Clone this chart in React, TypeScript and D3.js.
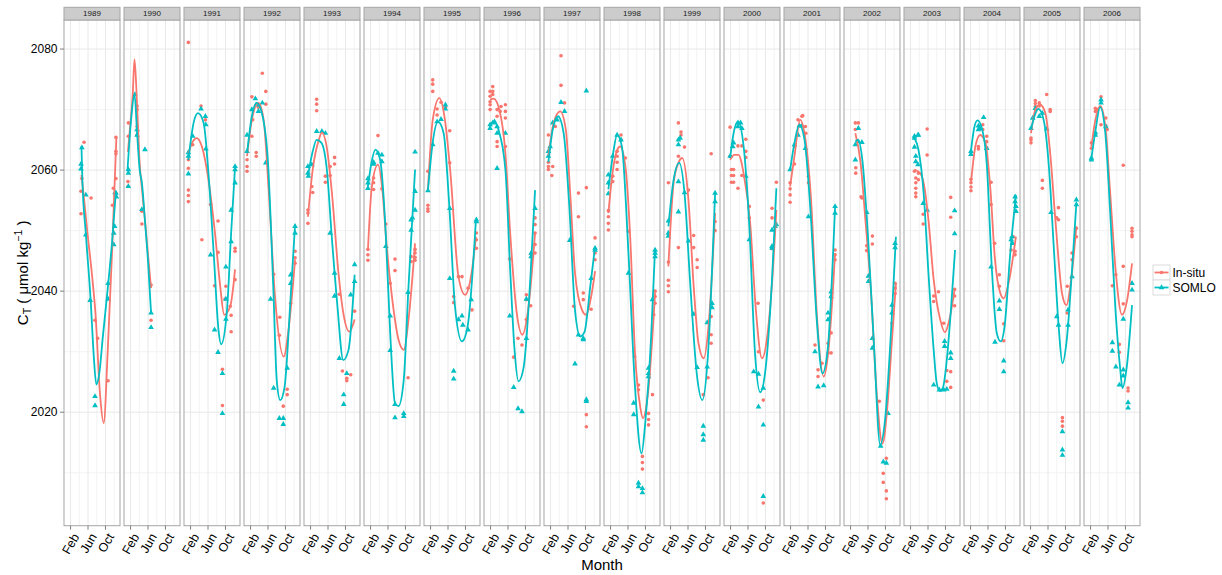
import React from "react";
import * as d3 from "d3";

type Pt = [number, number];

// Facet years and axis breaks
const years = [1989, 1990, 1991, 1992, 1993, 1994, 1995, 1996, 1997, 1998, 1999, 2000, 2001, 2002, 2003, 2004, 2005, 2006];
const monthBreaks = [2, 6, 10];
const monthLabels = ["Feb", "Jun", "Oct"];
const monthMinor = [4, 8, 12];
const ctBreaks = [2020, 2040, 2060, 2080];
const ctMinor = [2010, 2030, 2050, 2070];
const seriesNames = ["In-situ", "SOMLO"];
const seriesColors = ["#F8766D", "#00BFC4"];

// In-situ observations per year: [month, CT]
const insituPoints: Pt[][] = [
  [[5.1,2064.6],[4.6,2058.6],[4.4,2056.5],[4.4,2052.8],[6.7,2055.4],[7.6,2035.2],[8.2,2032.2],[10.6,2025.2],[12.4,2065.4],[12.4,2063.1],[12.4,2062.7],[12.4,2058.6],[11.8,2057.0],[11.6,2054.2],[12.4,2056.2]],
  [[1.5,2067.8],[1.5,2065.6],[1.4,2058.1],[1.4,2057.3],[3.5,2070.6],[3.5,2070.0],[3.5,2067.2],[3.5,2065.8],[4.6,2053.2],[4.6,2051.1],[6.7,2041.0],[6.7,2035.2]],
  [[1.5,2081.1],[1.5,2061.7],[1.5,2060.3],[1.5,2056.7],[1.5,2055.8],[1.5,2054.8],[2.5,2064.2],[4.4,2070.6],[4.6,2048.5],[5.4,2068.3],[6.6,2054.3],[8.3,2051.6],[8.3,2046.4],[7.5,2040.9],[10.1,2040.8],[9.9,2038.7],[9.3,2027.1],[9.3,2021.1],[12.2,2047.1],[12.2,2046.6],[12.2,2041.9],[11.3,2036.0],[11.3,2033.3],[11.1,2037.5]],
  [[1.2,2060.6],[1.2,2059.8],[1.2,2061.7],[2.3,2065.6],[2.5,2068.3],[2.3,2072.1],[3.3,2062.9],[3.3,2062.3],[3.8,2070.4],[4.7,2076.0],[5.5,2073.0],[5.5,2070.9],[8.7,2035.7],[8.6,2032.7],[9.5,2021.0],[10.4,2023.8],[10.4,2022.9],[12.2,2046.6],[12.2,2045.5],[12.2,2044.6],[11.2,2038.0],[7.3,2042.8]],
  [[1.4,2053.4],[1.4,2052.9],[1.4,2051.2],[2.3,2057.3],[2.5,2056.3],[3.4,2071.7],[3.4,2070.9],[3.4,2069.8],[5.4,2059.0],[5.4,2058.0],[6.5,2060.6],[6.5,2059.1],[7.5,2062.1],[7.5,2061.0],[8.6,2039.5],[9.3,2026.8],[10.3,2025.2],[10.3,2025.6],[11.2,2026.2],[12.1,2036.7]],
  [[1.4,2046.9],[1.4,2046.0],[1.4,2045.1],[2.7,2058.7],[2.7,2057.9],[2.7,2056.8],[3.7,2065.7],[4.6,2056.9],[5.5,2051.1],[6.5,2041.3],[7.6,2045.3],[7.6,2043.4],[10.6,2025.7],[11.3,2045.7],[11.3,2044.9],[12.2,2046.9],[12.2,2046.3],[12.2,2045.6],[12.2,2045.1]],
  [[1.4,2059.8],[1.4,2054.2],[1.4,2053.6],[1.4,2053.2],[2.5,2074.9],[2.5,2074.2],[2.5,2073.0],[3.5,2070.1],[3.5,2069.1],[4.4,2071.2],[5.4,2070.4],[6.4,2066.5],[6.4,2061.2],[7.3,2039.1],[7.3,2038.1],[8.4,2042.4],[9.2,2042.4],[10.6,2040.5],[11.5,2036.9],[12.5,2049.6],[12.5,2048.5],[12.5,2047.1]],
  [[1.9,2073.0],[1.9,2072.2],[1.9,2071.3],[1.9,2070.8],[1.9,2070.0],[2.5,2073.8],[2.5,2073.0],[2.5,2072.5],[3.5,2070.0],[3.5,2068.9],[4.2,2069.7],[4.4,2070.5],[5.4,2070.8],[5.4,2069.7],[5.4,2068.6],[3.5,2064.7],[3.5,2063.9],[5.4,2063.9],[6.4,2045.3],[7.3,2029.1],[8.3,2032.2],[9.2,2031.1],[10.2,2039.4],[10.2,2038.6],[10.2,2035.3],[11.2,2037.6],[12.2,2052.1],[12.2,2051.0],[12.2,2049.6],[12.2,2047.7],[12.2,2046.3],[11.3,2046.1]],
  [[1.5,2065.8],[1.5,2061.3],[1.5,2060.6],[1.5,2060.1],[2.3,2059.1],[2.5,2060.6],[3.1,2067.2],[4.4,2078.9],[4.4,2074.0],[5.2,2071.1],[8.4,2056.2],[8.4,2052.3],[7.3,2037.5],[9.5,2039.7],[9.5,2038.6],[10.2,2057.1],[10.2,2019.6],[10.2,2017.6],[11.3,2037.0],[12.2,2048.8],[12.2,2046.3],[12.2,2045.2]],
  [[1.5,2053.3],[1.5,2052.3],[1.5,2051.2],[1.5,2050.1],[2.5,2058.1],[2.5,2059.0],[3.5,2063.1],[3.5,2062.3],[3.5,2061.3],[3.5,2060.1],[4.4,2065.8],[4.4,2065.0],[5.4,2062.0],[6.1,2049.9],[7.5,2029.2],[8.4,2024.5],[8.4,2023.7],[9.3,2012.7],[9.3,2011.7],[9.3,2010.6],[10.7,2019.8],[10.7,2018.8],[10.7,2017.9],[11.6,2022.9],[12.2,2040.0],[12.2,2039.1],[12.2,2038.0],[11.9,2036.1]],
  [[1.5,2057.9],[1.5,2044.8],[1.5,2041.8],[1.5,2040.9],[1.5,2039.9],[3.8,2067.8],[4.4,2066.3],[4.4,2065.8],[3.8,2062.3],[3.8,2047.2],[5.2,2063.8],[6.1,2056.7],[7.3,2049.2],[7.3,2047.2],[8.1,2045.2],[8.1,2043.9],[9.5,2022.9],[10.6,2025.7],[11.3,2032.8],[11.3,2031.4],[11.3,2035.8],[11.3,2062.7],[12.2,2051.5],[12.2,2050.0]],
  [[1.9,2067.1],[1.9,2062.3],[2.2,2060.1],[2.2,2059.1],[2.2,2058.0],[2.7,2060.1],[2.7,2059.1],[2.7,2058.0],[3.7,2064.0],[3.7,2057.0],[4.6,2064.0],[4.6,2059.1],[5.5,2065.1],[5.5,2063.1],[5.5,2062.1],[6.3,2054.0],[6.3,2052.1],[8.3,2038.0],[8.4,2030.0],[9.5,2022.0],[9.5,2005.0],[11.5,2052.1],[11.5,2047.0],[11.5,2053.7],[12.5,2058.0]],
  [[1.9,2057.9],[1.9,2056.9],[1.9,2055.9],[1.9,2054.7],[2.9,2061.0],[2.9,2063.9],[3.7,2068.3],[4.6,2068.9],[4.8,2069.0],[5.4,2067.2],[5.5,2066.1],[6.1,2059.0],[6.1,2057.9],[7.6,2031.1],[8.3,2027.0],[8.3,2025.9],[9.2,2028.1],[10.6,2031.4],[10.6,2029.8],[11.3,2029.8],[11.3,2033.1],[11.3,2039.1],[12.2,2046.8],[12.2,2046.0],[12.2,2045.2]],
  [[3.1,2067.8],[3.8,2067.8],[3.1,2066.7],[3.2,2060.4],[3.2,2059.5],[4.4,2055.6],[4.6,2055.4],[5.7,2047.5],[5.7,2046.7],[7.0,2049.1],[7.0,2047.8],[8.6,2021.8],[9.5,2009.9],[9.5,2008.4],[10.2,2012.4],[10.2,2007.0],[10.2,2005.7],[11.5,2034.7],[12.2,2041.3],[12.2,2040.5],[12.2,2039.6]],
  [[2.9,2059.8],[3.2,2058.7],[3.2,2057.9],[3.2,2057.0],[3.2,2056.2],[3.2,2055.6],[3.8,2059.5],[3.8,2058.4],[4.9,2052.7],[4.9,2051.1],[5.8,2066.8],[5.8,2062.5],[7.3,2039.2],[7.3,2038.3],[8.4,2039.9],[9.6,2034.7],[10.3,2026.9],[10.3,2025.1],[11.2,2055.5],[11.2,2052.2],[11.2,2026.7],[11.2,2024.1],[12.1,2040.3],[12.1,2039.2],[12.1,2037.6]],
  [[2.1,2058.5],[2.1,2057.9],[2.1,2057.2],[2.1,2056.6],[3.8,2063.9],[3.8,2063.5],[4.1,2067.2],[4.8,2067.5],[4.8,2066.7],[5.7,2065.6],[5.7,2064.7],[5.7,2063.7],[6.7,2058.0],[6.7,2054.3],[7.5,2047.9],[8.6,2042.7],[8.6,2040.8],[9.6,2034.6],[9.6,2031.8],[11.3,2046.8],[11.8,2049.0],[12.2,2046.6],[12.2,2046.0]],
  [[2.1,2065.0],[2.1,2064.5],[2.1,2065.3],[3.1,2071.5],[3.1,2071.0],[3.1,2070.5],[3.2,2070.0],[4.0,2071.1],[4.0,2070.6],[5.7,2072.5],[6.5,2070.0],[6.5,2069.7],[4.7,2058.3],[4.7,2057.0],[8.4,2053.8],[8.0,2052.1],[8.4,2051.8],[10.4,2040.8],[10.4,2036.4],[9.3,2019.1],[9.3,2018.5],[9.3,2017.7],[11.5,2046.3],[11.5,2045.2],[12.5,2050.4],[12.5,2049.0]],
  [[2.2,2064.5],[2.2,2063.6],[3.1,2070.2],[3.1,2069.7],[3.5,2070.0],[4.4,2072.1],[4.4,2067.5],[5.5,2068.6],[5.5,2067.3],[5.8,2066.7],[7.8,2042.7],[7.0,2040.9],[8.6,2031.2],[8.6,2029.9],[9.5,2060.8],[9.5,2044.1],[9.5,2037.9],[10.6,2024.0],[10.6,2023.5],[11.5,2050.4],[11.5,2049.9],[11.5,2049.3],[11.5,2049.0]],
];

// SOMLO estimates per year: [month, CT]
const somloPoints: Pt[][] = [
  [[4.6,2063.7],[4.4,2061.0],[4.4,2060.2],[5.5,2055.9],[5.5,2049.3],[6.5,2038.5],[7.6,2022.6],[7.6,2021.1],[10.6,2041.3],[10.6,2038.7],[11.9,2047.7],[11.9,2049.6],[12.1,2050.7],[12.4,2056.2],[12.5,2055.6],[12.2,2056.3]],
  [[1.5,2060.1],[1.5,2059.5],[1.5,2057.3],[3.0,2072.5],[3.5,2066.7],[3.5,2065.8],[5.3,2063.4],[4.6,2053.5],[6.7,2036.4],[6.7,2034.0]],
  [[1.5,2062.9],[1.5,2062.3],[1.5,2059.4],[2.5,2065.6],[4.4,2070.1],[5.4,2068.9],[5.5,2067.5],[5.5,2063.5],[6.6,2046.0],[7.5,2033.6],[8.3,2029.9],[9.3,2026.4],[9.3,2019.8],[10.1,2044.0],[10.1,2038.7],[10.1,2035.4],[11.3,2048.2],[11.3,2053.4],[12.2,2060.1],[12.2,2057.9],[12.2,2060.6]],
  [[1.2,2065.8],[1.2,2063.1],[2.3,2070.0],[3.1,2071.8],[3.3,2070.8],[3.8,2069.7],[4.7,2071.1],[5.5,2061.2],[6.6,2038.7],[7.3,2024.0],[8.6,2019.0],[9.5,2019.0],[9.5,2018.0],[10.4,2027.3],[11.2,2041.3],[11.2,2042.7],[12.2,2050.7],[12.2,2049.6]],
  [[1.4,2060.6],[1.4,2059.5],[1.5,2059.0],[2.3,2060.9],[3.4,2066.4],[4.6,2066.4],[5.4,2066.1],[6.5,2049.6],[7.5,2043.0],[7.5,2039.2],[8.6,2028.9],[9.6,2022.9],[9.6,2021.3],[10.3,2026.4],[11.2,2039.4],[12.1,2044.4],[12.1,2041.6]],
  [[1.4,2058.6],[1.4,2057.9],[1.4,2057.0],[2.7,2061.0],[2.7,2061.3],[3.7,2062.8],[4.6,2062.5],[4.6,2061.4],[5.5,2047.4],[6.5,2035.9],[6.5,2030.2],[7.6,2021.3],[7.6,2019.1],[9.6,2019.8],[9.6,2019.3],[10.6,2039.8],[11.3,2050.1],[11.3,2051.8],[11.6,2052.1],[12.2,2053.4],[12.2,2056.5],[12.2,2063.0]],
  [[1.4,2056.6],[2.5,2064.2],[3.5,2068.0],[4.4,2068.4],[5.4,2070.8],[5.4,2070.1],[6.4,2053.7],[6.4,2042.1],[7.3,2026.8],[7.3,2025.5],[8.4,2035.3],[9.2,2035.9],[9.4,2034.4],[10.6,2033.6],[11.3,2038.6],[12.5,2051.8],[12.5,2051.5]],
  [[1.9,2067.5],[1.9,2066.9],[2.5,2067.8],[2.9,2068.0],[3.5,2067.2],[3.5,2066.1],[3.5,2060.3],[5.4,2066.1],[6.4,2035.9],[7.3,2024.1],[8.3,2020.6],[9.2,2020.1],[10.2,2032.2],[10.2,2038.7],[11.3,2046.3],[11.3,2045.7],[12.2,2053.7]],
  [[1.5,2063.1],[1.5,2062.3],[1.9,2063.9],[2.5,2067.8],[3.5,2068.3],[4.4,2071.2],[5.2,2069.7],[6.4,2048.4],[7.6,2028.0],[8.4,2032.8],[9.5,2032.2],[9.5,2032.0],[10.2,2073.1],[10.2,2022.1],[10.2,2021.8],[11.3,2042.1],[12.2,2047.1],[12.2,2046.8]],
  [[1.5,2059.2],[1.5,2057.9],[1.5,2056.1],[2.5,2062.3],[3.5,2065.8],[4.4,2065.0],[6.1,2043.0],[7.3,2021.5],[7.3,2019.6],[8.4,2008.3],[8.4,2007.7],[9.3,2007.4],[9.3,2006.7],[10.7,2027.3],[10.7,2025.9],[10.7,2026.4],[11.6,2038.6],[12.2,2046.3],[12.2,2045.7],[12.2,2046.8]],
  [[1.5,2051.6],[1.5,2049.6],[1.5,2049.1],[3.8,2065.0],[3.8,2064.2],[4.2,2065.3],[3.8,2058.1],[3.8,2053.1],[5.2,2056.3],[6.1,2048.3],[7.3,2036.2],[8.1,2027.4],[9.5,2017.7],[9.5,2016.3],[9.5,2015.4],[10.4,2034.8],[10.4,2027.5],[11.5,2038.0],[11.5,2037.3],[12.2,2056.2],[12.2,2054.8]],
  [[1.9,2062.3],[2.5,2063.9],[2.7,2064.5],[3.7,2067.8],[3.7,2067.2],[4.3,2067.8],[4.6,2066.9],[5.5,2059.0],[6.3,2048.5],[7.3,2026.7],[8.4,2026.3],[8.4,2020.9],[9.5,2024.0],[9.5,2017.9],[9.5,2006.1],[11.5,2050.1],[11.5,2047.4],[11.5,2047.1],[12.5,2051.0],[12.2,2050.7]],
  [[1.9,2060.1],[2.9,2064.2],[3.7,2065.8],[4.0,2067.3],[4.6,2067.3],[5.4,2063.6],[6.1,2052.3],[7.6,2030.0],[8.3,2024.2],[9.6,2024.4],[10.6,2036.4],[10.6,2035.3],[11.3,2039.9],[11.3,2039.1],[12.2,2054.0],[12.2,2052.9]],
  [[3.1,2061.7],[3.1,2064.2],[3.8,2066.9],[3.8,2064.7],[4.6,2064.6],[5.7,2053.0],[6.1,2042.5],[6.1,2041.6],[7.0,2032.2],[7.0,2030.6],[8.9,2014.4],[9.5,2011.8],[10.2,2011.6],[10.6,2019.8],[11.5,2036.4],[11.5,2037.7],[12.2,2047.9],[12.2,2047.2]],
  [[2.9,2065.6],[2.9,2065.3],[3.7,2065.8],[3.8,2065.8],[2.9,2063.8],[3.2,2062.3],[3.2,2061.4],[3.7,2060.9],[4.9,2054.5],[5.8,2053.4],[7.3,2024.5],[8.6,2023.7],[9.6,2023.7],[9.8,2031.7],[9.8,2030.9],[10.3,2023.8],[11.2,2029.8],[11.2,2028.9],[12.1,2053.3],[12.1,2049.5]],
  [[2.1,2063.1],[2.1,2062.6],[3.8,2067.3],[3.8,2066.7],[4.2,2066.9],[5.0,2068.7],[5.7,2063.6],[6.7,2044.0],[7.6,2031.6],[8.6,2038.4],[8.6,2037.0],[9.6,2028.5],[9.6,2026.7],[11.3,2048.5],[11.5,2049.0],[11.6,2047.9],[12.2,2055.6],[12.2,2054.8],[12.4,2054.0],[12.4,2053.2]],
  [[2.1,2066.9],[2.5,2068.6],[3.1,2070.2],[4.0,2068.9],[4.7,2069.4],[5.7,2066.8],[6.7,2053.0],[8.0,2035.8],[8.4,2034.4],[9.3,2016.8],[9.3,2013.8],[9.3,2012.9],[10.6,2036.9],[10.6,2034.4],[11.5,2042.4],[12.5,2055.1],[12.5,2054.3]],
  [[2.2,2062.0],[2.2,2061.7],[3.1,2066.2],[3.1,2065.8],[4.4,2071.6],[4.4,2071.1],[5.5,2067.2],[7.0,2031.5],[7.0,2030.1],[7.8,2027.5],[8.6,2024.5],[9.5,2027.0],[9.5,2026.0],[9.5,2035.4],[10.6,2021.6],[10.6,2020.7],[11.5,2041.3],[11.5,2040.2]],
];

// Smoothed seasonal fits per year: [month, CT]
const insituFit: Pt[][] = [
  [[4.5,2059.2],[5.2,2054.5],[5.8,2050.1],[6.8,2043.5],[7.7,2036.4],[8.8,2022.5],[9.6,2018.2],[10.5,2029.8],[11.5,2046.3],[12.5,2065.3]],
  [[1.4,2063],[2.0,2068],[2.5,2072.5],[2.9,2078.3],[3.3,2074],[3.6,2069],[4.1,2061],[4.6,2057],[5.4,2051],[6.0,2046],[6.7,2040.5]],
  [[1.5,2062.8],[2.5,2064.7],[3.4,2065.3],[4.6,2063.9],[6.1,2058.4],[7.6,2049.6],[8.8,2040.8],[9.7,2036.1],[11.1,2037.5],[12.2,2043.6]],
  [[1.2,2062.3],[2.3,2068.3],[3.8,2071.1],[5.0,2068.3],[6.1,2057.3],[7.6,2039.1],[9.6,2029.2],[10.7,2033.6],[12.2,2045.2]],
  [[1.4,2052.3],[2.5,2060.1],[3.9,2065],[4.6,2066.2],[5.8,2063.4],[6.9,2056.2],[8.4,2043],[9.5,2036.4],[10.9,2033.3],[12.1,2035.3]],
  [[1.4,2046.8],[2.3,2057.3],[3.7,2060.9],[4.7,2056.8],[5.7,2047.4],[6.9,2039.1],[8.4,2032],[9.6,2030.3],[10.7,2035.3],[12.2,2047.9]],
  [[1.4,2056.7],[2.5,2068.3],[4.0,2071.9],[5.3,2068.3],[6.5,2060],[8.4,2042.4],[9.9,2039.4],[11.4,2043],[12.4,2049]],
  [[1.9,2071.6],[2.7,2071.8],[4.0,2070],[5.4,2062.8],[6.5,2049.6],[8.0,2036.4],[9.3,2032.8],[10.6,2036.9],[12.2,2049.6]],
  [[1.5,2062.3],[2.7,2067.8],[4.2,2069.7],[5.5,2066.7],[6.5,2056.2],[7.6,2043],[9.2,2036.9],[10.1,2036.1],[11.3,2039.1],[12.2,2043.3]],
  [[1.5,2052.9],[2.5,2059.8],[3.7,2063.6],[4.2,2063.9],[5.4,2060.6],[6.5,2049],[7.6,2029.8],[8.8,2020.9],[9.4,2019],[10.5,2022.6],[12.2,2039.7]],
  [[1.5,2044.1],[2.7,2057.9],[3.8,2061.2],[4.7,2062],[6.1,2055.1],[7.3,2040.8],[8.4,2031.4],[9.6,2028.9],[10.7,2034.2],[12.2,2052.9]],
  [[1.9,2061.7],[2.9,2062.5],[3.8,2062.5],[5.1,2059],[6.5,2051.2],[7.8,2036.9],[9.2,2028.9],[10.4,2032.5],[11.5,2041.3],[12.5,2053.4]],
  [[1.9,2057.3],[2.9,2062.3],[4.2,2068.3],[5.3,2065.6],[6.7,2055.1],[8.0,2036.4],[9.6,2025.9],[10.7,2030.3],[12.2,2046.3]],
  [[3.1,2066.1],[4.3,2061.2],[5.4,2051.8],[6.6,2040.8],[8.0,2023.1],[9.3,2014.8],[10.5,2021.5],[11.4,2031],[12.4,2041.3]],
  [[2.9,2060.1],[4.2,2059.5],[5.0,2057.9],[6.1,2051.8],[7.3,2041.9],[8.8,2035.3],[9.9,2033.2],[10.9,2035.3],[12.1,2040.3]],
  [[2.1,2057.9],[3.1,2063.9],[4.2,2065.8],[5.4,2064.5],[6.5,2057.3],[7.6,2045.2],[8.8,2039.7],[9.6,2038.8],[10.7,2041.3],[12.4,2049]],
  [[2.1,2066.1],[3.1,2070],[4.2,2070.8],[5.4,2069.4],[6.5,2062.8],[7.8,2050.7],[9.2,2039.7],[10.2,2037.7],[11.3,2041.9],[12.5,2050.7]],
  [[2.2,2063.9],[3.1,2068.3],[4.2,2070.6],[5.4,2067.2],[6.5,2056.2],[7.8,2043],[9.2,2036.1],[10.4,2038.6],[11.5,2044.6]],
];

const somloFit: Pt[][] = [
  [[4.5,2064],[4.7,2058.5],[5.5,2049.5],[6.6,2038.6],[7.3,2029.5],[7.9,2024.6],[8.6,2026.5],[9.4,2032.5],[10.6,2041],[11.5,2048],[12.4,2056.5]],
  [[1.3,2060],[2.2,2068.9],[2.9,2072.6],[3.5,2066.1],[4.1,2060],[4.6,2057.9],[5.4,2050.7],[6.0,2045],[6.7,2036.4]],
  [[1.5,2061.7],[2.7,2067.8],[3.7,2069.4],[5.0,2067.8],[6.1,2059.5],[7.3,2046.3],[8.4,2033.6],[9.0,2031.2],[10.3,2036.4],[11.3,2049.6],[12.2,2060.6]],
  [[1.2,2062.8],[2.3,2068.9],[3.4,2071.1],[4.6,2069.4],[6.0,2061.2],[7.2,2040.8],[8.0,2025.3],[8.8,2022],[9.8,2024.2],[11.1,2038],[12.2,2051]],
  [[1.4,2059],[2.5,2063.1],[3.4,2065],[4.5,2064.5],[5.8,2059.6],[6.8,2049.6],[8.1,2038],[9.5,2028.6],[10.7,2030.3],[12.1,2042.7]],
  [[1.4,2057.3],[2.2,2061.2],[3.1,2063.4],[4.2,2061.7],[5.4,2050.7],[6.5,2033.1],[7.6,2021.5],[8.4,2021],[9.6,2025.3],[10.7,2040.8],[12.2,2060.1]],
  [[1.4,2056.6],[2.5,2064.6],[3.7,2068],[5.0,2066.1],[6.3,2054],[7.6,2037.5],[9.2,2031.7],[10.5,2034.2],[12.4,2051.8]],
  [[1.9,2067.2],[2.7,2068],[3.8,2066.7],[5.4,2060.1],[6.5,2043.5],[7.5,2030.3],[8.4,2025.1],[9.6,2027.5],[11.1,2041.9],[12.2,2056.7]],
  [[1.5,2061.3],[2.5,2066.7],[3.7,2068.9],[5.0,2066.1],[6.3,2054],[7.6,2036.9],[8.8,2032.5],[9.8,2033.3],[11.1,2040.8],[12.2,2047.4]],
  [[1.5,2056.8],[2.5,2062.3],[3.5,2065.8],[4.6,2063.9],[6.1,2046.3],[7.6,2024.2],[9.1,2013.2],[10.0,2018.7],[11.3,2032.5],[12.2,2047.1]],
  [[1.5,2050.7],[2.7,2058.4],[4.0,2061.2],[5.2,2056.2],[6.5,2041.3],[8.0,2026.4],[9.3,2022],[10.5,2028.7],[12.2,2056.2]],
  [[1.9,2062],[2.7,2066.1],[3.7,2068],[5.0,2063.9],[6.3,2050.7],[7.6,2029.8],[8.8,2023.3],[9.9,2026.4],[11.5,2041.9],[12.5,2057]],
  [[1.9,2060],[2.9,2064.5],[4.0,2067.5],[5.2,2065],[6.5,2054],[8.0,2035.3],[9.3,2026.4],[10.5,2030.3],[12.2,2054]],
  [[3.1,2064.7],[3.7,2065],[4.7,2061.7],[6.0,2049],[7.3,2032],[8.8,2014.6],[9.9,2018.7],[11.4,2035],[12.4,2049]],
  [[2.9,2065.3],[3.8,2063.4],[5.0,2056.2],[6.1,2043],[7.3,2030.3],[8.0,2024.8],[8.7,2023.5],[9.4,2024],[10.3,2028.6],[11.2,2036.4],[12.2,2046.8]],
  [[2.1,2063.1],[2.9,2067.2],[3.6,2068.2],[4.6,2066.9],[5.7,2061.2],[6.9,2043.5],[8.0,2033.1],[8.9,2031.7],[9.8,2034.2],[11.1,2046.3],[12.4,2055.9]],
  [[2.1,2066.7],[3.0,2069.1],[3.8,2070.1],[5.0,2068.3],[6.2,2060.6],[7.4,2046.3],[8.5,2033.6],[9.3,2028.1],[10.3,2032],[11.5,2043.5],[12.5,2054.5]],
  [[2.2,2062],[3.1,2066.4],[4.2,2070.4],[5.4,2066],[6.5,2053],[7.7,2037],[8.8,2027.1],[9.3,2024],[10.3,2027.5],[11.5,2037.7]],
];

const FONT = "'Liberation Sans', Arial, Helvetica, sans-serif";
const W = 1222;
const H = 575;
const panelX0 = 64;
const panelW = 56;
const panelStep = 60;
const panelTop = 20;
const panelBottom = 525.7;
const stripTop = 7.3;

export default function App() {
  const x = d3.scaleLinear().domain([0.5, 13.33]).range([0, panelW]);
  const y = d3.scaleLinear().domain([2001.25, 2084.8]).range([panelBottom, panelTop]);
  const line = d3
    .line<Pt>()
    .x((d) => x(d[0]))
    .y((d) => y(d[1]))
    .curve(d3.curveMonotoneX);
  const triangle = d3.symbol().type(d3.symbolTriangle).size(14)() as string;

  const legendX = 1153;
  const legendY = 265;
  const keyH = 15;
  const keyW = 17;

  return (
    <svg
      width={W}
      height={H}
      style={{ position: "absolute", left: 0, top: 0, background: "#fff" }}
      fontFamily={FONT}
    >
      <rect width={W} height={H} fill="#fff" />

      {years.map((yr, i) => {
        const px = panelX0 + i * panelStep;
        return (
          <g key={yr} transform={`translate(${px},0)`}>
            <clipPath id={`clip-${yr}`}>
              <rect x={0} y={panelTop} width={panelW} height={panelBottom - panelTop} />
            </clipPath>
            <rect x={0} y={panelTop} width={panelW} height={panelBottom - panelTop} fill="#fff" />
            {ctMinor.map((v) => (
              <line key={`ym${v}`} x1={0} x2={panelW} y1={y(v)} y2={y(v)} stroke="#f3f3f3" strokeWidth={1} />
            ))}
            {monthMinor.map((m) => (
              <line key={`xm${m}`} x1={x(m)} x2={x(m)} y1={panelTop} y2={panelBottom} stroke="#f3f3f3" strokeWidth={1} />
            ))}
            {ctBreaks.map((v) => (
              <line key={`y${v}`} x1={0} x2={panelW} y1={y(v)} y2={y(v)} stroke="#e8e8e8" strokeWidth={1} />
            ))}
            {monthBreaks.map((m) => (
              <line key={`x${m}`} x1={x(m)} x2={x(m)} y1={panelTop} y2={panelBottom} stroke="#e8e8e8" strokeWidth={1} />
            ))}

            <g clipPath={`url(#clip-${yr})`}>
              {insituPoints[i].map((d, j) => (
                <circle key={`ip${j}`} cx={x(d[0])} cy={y(d[1])} r={1.8} fill={seriesColors[0]} />
              ))}
              {somloPoints[i].map((d, j) => (
                <path key={`sp${j}`} d={triangle} transform={`translate(${x(d[0])},${y(d[1])})`} fill={seriesColors[1]} />
              ))}
              <path d={line(insituFit[i]) || ""} fill="none" stroke={seriesColors[0]} strokeWidth={1.8} />
              <path d={line(somloFit[i]) || ""} fill="none" stroke={seriesColors[1]} strokeWidth={1.8} />
            </g>

            <rect x={0} y={panelTop} width={panelW} height={panelBottom - panelTop} fill="none" stroke="#a6a6a6" strokeWidth={1} />
            <rect x={0} y={stripTop} width={panelW} height={panelTop - stripTop} fill="#cccccc" stroke="#a6a6a6" strokeWidth={1} />
            <text x={panelW / 2} y={(stripTop + panelTop) / 2} dy="0.35em" textAnchor="middle" fontSize={8} fill="#1a1a1a">
              {yr}
            </text>

            {monthBreaks.map((m, k) => (
              <g key={`t${m}`}>
                <line x1={x(m)} x2={x(m)} y1={panelBottom} y2={panelBottom + 4} stroke="#7f7f7f" strokeWidth={1} />
                <text
                  transform={`translate(${x(m) + 1.5},${panelBottom + 6.5}) rotate(-60)`}
                  textAnchor="end"
                  dominantBaseline="hanging"
                  fontSize={12.5}
                  fill="#000"
                >
                  {monthLabels[k]}
                </text>
              </g>
            ))}
          </g>
        );
      })}

      {ctBreaks.map((v) => (
        <g key={`yl${v}`}>
          <line x1={panelX0 - 4} x2={panelX0} y1={y(v)} y2={y(v)} stroke="#7f7f7f" strokeWidth={1} />
          <text x={panelX0 - 6.5} y={y(v)} dy="0.35em" textAnchor="end" fontSize={12} fill="#000">
            {v}
          </text>
        </g>
      ))}

      <text transform={`translate(28,${(panelTop + panelBottom) / 2}) rotate(-90)`} textAnchor="middle" fontSize={15} fill="#000">
        C
        <tspan fontSize={10.5} dy={3}>T</tspan>
        <tspan dy={-3}> ( μmol kg</tspan>
        <tspan fontSize={10.5} dy={-6}>−1</tspan>
        <tspan dy={6}> )</tspan>
      </text>

      <text x={(panelX0 + panelX0 + 17 * panelStep + panelW) / 2} y={570} textAnchor="middle" fontSize={15} fill="#000">
        Month
      </text>

      {seriesNames.map((name, k) => {
        const ky = legendY + k * keyH;
        const cy = ky + keyH / 2;
        return (
          <g key={name}>
            <rect x={legendX} y={ky} width={keyW} height={keyH} fill="#fff" stroke="#dcdcdc" strokeWidth={1} />
            <line x1={legendX + 1.5} x2={legendX + keyW - 1.5} y1={cy} y2={cy} stroke={seriesColors[k]} strokeWidth={1.8} />
            {k === 0 ? (
              <circle cx={legendX + keyW / 2} cy={cy} r={1.8} fill={seriesColors[0]} />
            ) : (
              <path d={triangle} transform={`translate(${legendX + keyW / 2},${cy})`} fill={seriesColors[1]} />
            )}
            <text x={legendX + keyW + 2.5} y={cy} dy="0.35em" fontSize={12} fill="#000">
              {name}
            </text>
          </g>
        );
      })}
    </svg>
  );
}
